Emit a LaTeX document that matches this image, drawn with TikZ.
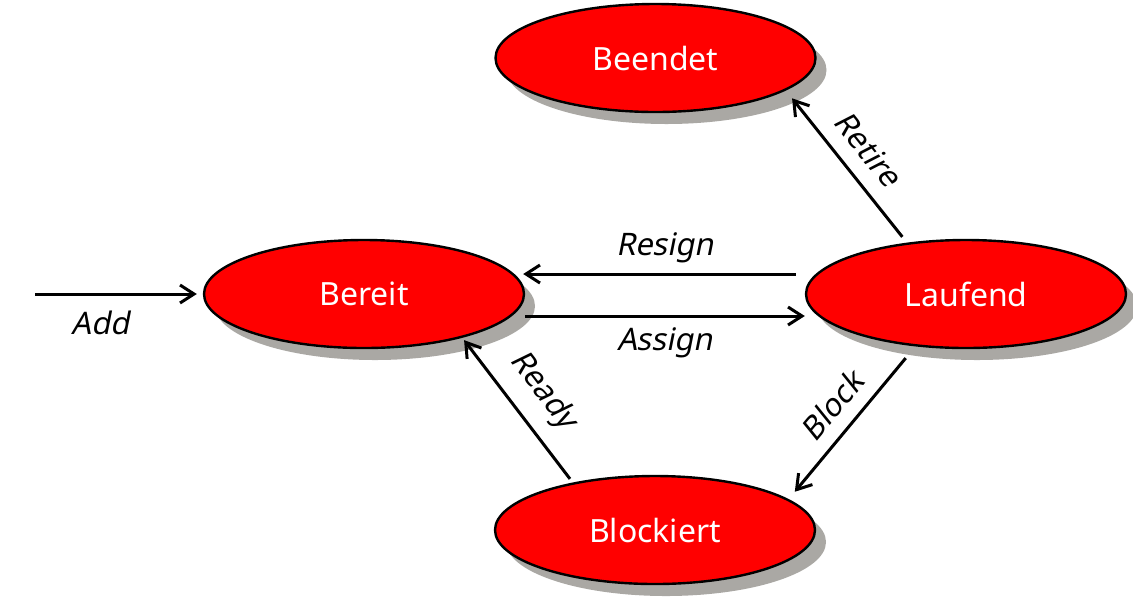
\documentclass[tikz,border=0pt]{standalone}
\usepackage{fontspec}
\setmainfont{Noto Sans}
\newfontfamily\lblfont[FakeSlant=0.2]{Noto Sans}
\usetikzlibrary{shapes.geometric,arrows.meta,shadows}

\definecolor{statered}{RGB}{255,0,0}
\definecolor{shadowgray}{RGB}{170,168,164}

\tikzset{
  state/.style={ellipse,draw=black,line width=1.2pt,fill=statered,text=white,
    minimum width=160pt,minimum height=54pt,inner sep=0pt,
    font=\fontsize{16}{19}\selectfont,
    drop shadow={shadow xshift=5.5pt,shadow yshift=-6pt,fill=shadowgray,opacity=1}},
  trans/.style={line width=1.5pt,-{Straight Barb[length=7pt,width=9pt,line width=1.5pt]}},
  lbl/.style={font=\lblfont\fontsize{15.5}{18}\selectfont,inner sep=2pt}
}

\begin{document}
\begin{tikzpicture}[x=0.5pt,y=-0.5pt]
    \useasboundingbox (0,0) rectangle (1133,601);
    % states
    \node[state] (Beendet) at (655.5,58) {Beendet};
    \node[state] (Bereit) at (364,294) {Bereit};
    \node[state] (Laufend) at (966,294) {Laufend};
    \node[state] (Blockiert) at (655,530) {Blockiert};
    \coordinate (AddStart) at (35,294);
    % transitions
    \draw[trans,shorten >=3pt] (AddStart) -- (Bereit.west) node[lbl,pos=0.39,below=5.5pt] {Add};
    \draw[trans,shorten <=4.5pt,shorten >=-1pt] ([yshift=10pt]Laufend.west) -- ([yshift=10pt]Bereit.east) node[lbl,midway,above=3pt] {Resign};
    \draw[trans] ([yshift=-11pt]Bereit.east) -- ([yshift=-11pt]Laufend.west) node[lbl,midway,below=3pt] {Assign};
    \draw[trans,shorten <=3.7pt,shorten >=5pt] (Laufend.139.8) -- (Beendet.-14.1) node[lbl,midway,sloped,above=5.5pt] {Retire};
    \draw[trans,shorten <=2.3pt,shorten >=1.5pt] (Blockiert.150.7) -- (Bereit.-24.9) node[lbl,midway,sloped,above=5.5pt] {Ready};
    \draw[trans,shorten <=7.6pt,shorten >=4.8pt] (Laufend.-134.4) -- (Blockiert.13.1) node[lbl,midway,sloped,above=4.5pt] {Block};
\end{tikzpicture}
\end{document}
